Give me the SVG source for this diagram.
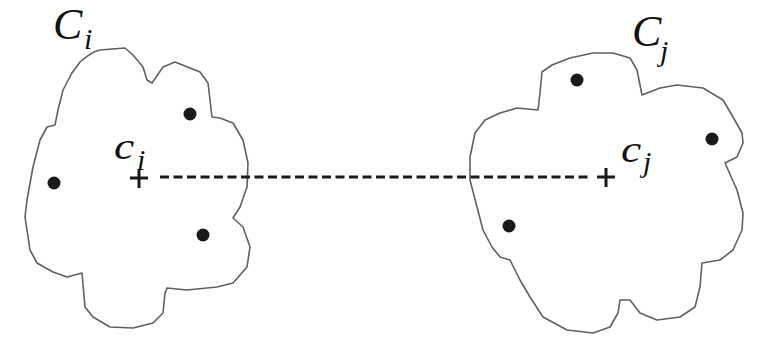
<svg xmlns="http://www.w3.org/2000/svg" width="758" height="338" viewBox="0 0 758 338">
<style>
.cloud{fill:none;stroke:#606060;stroke-width:1.6;stroke-linejoin:round}
.dot{fill:#1a1a1a}
.plus{stroke:#1a1a1a;stroke-width:3;fill:none}
.lbl{font-family:"Liberation Serif","Times New Roman",serif;font-style:italic;fill:#111}
.dash{stroke:#1a1a1a;stroke-width:3;stroke-dasharray:9 4.5;fill:none}
</style>
<rect width="758" height="338" fill="#fff"/>
<g id="cluster-i">
<path class="cloud" d="M80,62 C88,55 94,51 100,50 L125,48 L133,55 L143,67 L147,80 L152,83 L163,67 L175,62 L200,72 L208,83 L212,117 L220,118 L233,123 L243,140 L248,163 L247,187 L240,207 L233,218 L243,227 L250,247 L247,267 L233,283 L217,287 L187,290 L167,288 L165,293 L163,313 L153,323 L133,328 L110,327 L93,317 L85,307 L82,273 L67,277 L53,272 L37,263 L30,250 L25,217 L27,200 L33,167 L40,140 L47,127 L55,125 L58,110 L63,90 L72,73 Z"/>
<circle class="dot" cx="190" cy="114" r="6.5"/>
<circle class="dot" cx="54" cy="183" r="6.5"/>
<circle class="dot" cx="203" cy="235" r="6.5"/>
</g>
<g id="cluster-j">
<path class="cloud" d="M542,72 L552,65 L570,58 L593,53 L613,53 L630,58 L637,70 L642,95 L660,88 L677,85 L703,88 L723,100 L733,117 L742,133 L743,143 L737,157 L725,163 L737,190 L743,213 L742,230 L733,250 L720,260 L702,263 L700,287 L695,307 L680,317 L657,320 L640,313 L630,300 L620,300 L618,313 L610,327 L593,333 L567,330 L543,317 L530,297 L520,280 L510,260 L500,257 L492,247 L483,230 L477,207 L470,180 L470,157 L475,133 L485,120 L500,113 L517,108 L538,110 L540,93 Z"/>
<circle class="dot" cx="577" cy="80" r="6.5"/>
<circle class="dot" cx="712" cy="139" r="6.5"/>
<circle class="dot" cx="509" cy="226" r="6.5"/>
</g>
<g id="centroid-i">
<path class="plus" d="M130,178 H148 M139,169 V188"/>
<text class="lbl" x="114" y="159" font-size="38" transform="translate(114 159) scale(1.2 1) translate(-114 -159)">c</text>
<text class="lbl" x="137" y="170" font-size="30">i</text>
</g>
<g id="centroid-j">
<path class="plus" d="M597,177 H615 M606,168 V187"/>
<text class="lbl" x="621" y="162" font-size="38" transform="translate(621 162) scale(1.2 1) translate(-621 -162)">c</text>
<text class="lbl" x="643" y="172" font-size="30">j</text>
</g>
<g id="label-Ci">
<text class="lbl" x="53" y="39" font-size="44">C</text>
<text class="lbl" x="84" y="49" font-size="30">i</text>
</g>
<g id="label-Cj">
<text class="lbl" x="632" y="46" font-size="44">C</text>
<text class="lbl" x="660" y="61" font-size="30">j</text>
</g>
<g id="connectors">
<path class="dash" d="M160,177 H591"/>
</g>
</svg>
